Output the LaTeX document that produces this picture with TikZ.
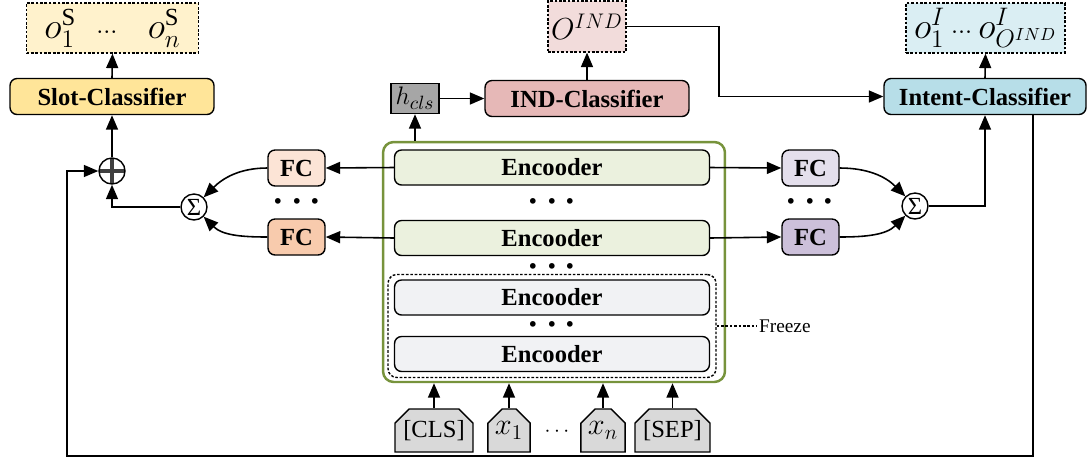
\documentclass[tikz,border=0pt]{standalone}
\usepackage{fontspec}
\setmainfont{Liberation Serif}
\usetikzlibrary{arrows.meta,shapes.misc}
\definecolor{slotdark}{RGB}{255,229,153}
\definecolor{slotlight}{RGB}{255,242,204}
\definecolor{inddark}{RGB}{230,184,183}
\definecolor{indlight}{RGB}{242,220,219}
\definecolor{intdark}{RGB}{183,222,232}
\definecolor{intlight}{RGB}{218,238,243}
\definecolor{fcone}{RGB}{252,228,214}
\definecolor{fctwo}{RGB}{248,203,173}
\definecolor{fcthree}{RGB}{228,223,236}
\definecolor{fcfour}{RGB}{204,192,218}
\definecolor{encgreen}{RGB}{235,241,222}
\definecolor{encgray}{RGB}{241,242,244}
\definecolor{tokgray}{RGB}{217,217,217}
\definecolor{hclsgray}{RGB}{166,166,166}
\definecolor{bertgreen}{RGB}{119,147,60}
\begin{document}
\begin{tikzpicture}[x=0.02cm,y=-0.02cm,
  box/.style={draw,line width=0.8pt,rounded corners=4pt,inner sep=0pt,font=\fontsize{14}{16}\selectfont\bfseries},
  enc/.style={box,minimum width=6.3cm,minimum height=0.7cm},
  fc/.style={box,minimum width=1.14cm,minimum height=0.72cm},
  clsbox/.style={box,minimum width=4.08cm,minimum height=0.72cm},
  outbox/.style={draw,line width=0.7pt,dash pattern=on 1.5pt off 1pt,inner sep=0pt,minimum height=1.0cm,font=\fontsize{20}{22}\selectfont},
  tok/.style={draw,line width=0.8pt,fill=tokgray,chamfered rectangle,chamfered rectangle corners={north west,north east},chamfered rectangle xsep=4pt,chamfered rectangle ysep=4pt,inner sep=0pt,minimum height=0.86cm,font=\fontsize{14}{16}\selectfont},
  sumnode/.style={circle,draw,line width=0.8pt,fill=white,minimum size=0.52cm,inner sep=0pt,font=\fontsize{14}{14}\selectfont},
  dots/.style={inner sep=0pt,font=\fontsize{20}{20}\selectfont\boldmath},
  arr/.style={line width=0.9pt,-{Triangle[length=2.9mm,width=2.4mm]}},
  ln/.style={line width=0.9pt}]
\useasboundingbox (0,0) rectangle (1088,461);

\node[draw=bertgreen,line width=1.4pt,rounded corners=6pt,minimum width=6.84cm,minimum height=4.8cm] (bert) at (554,262) {};
\node[draw,line width=0.8pt,dash pattern=on 1.5pt off 1pt,rounded corners=5pt,minimum width=6.56cm,minimum height=2.06cm] (frz) at (552,326) {};

\node[enc,fill=encgreen] (enc1) at (552,167.5) {Encooder};
\node[enc,fill=encgreen] (enc2) at (552,238) {Encooder};
\node[enc,fill=encgray] (enc3) at (552,297.5) {Encooder};
\node[enc,fill=encgray] (enc4) at (552,354) {Encooder};
\node[dots] (dota) at (552,202) {$\cdots$};
\node[dots] (dotb) at (552,267) {$\cdots$};
\node[dots] (dotc) at (552,325) {$\cdots$};

\node[font=\fontsize{11}{13}\selectfont,anchor=west,inner sep=1pt] (frzlbl) at (757,326) {Freeze};
\draw[line width=0.7pt,dash pattern=on 1.5pt off 1pt] (frz.east) -- (frzlbl.west);

\node[tok,minimum width=1.56cm] (tcls) at (434,430.5) {[CLS]};
\node[tok,minimum width=0.76cm,font=\fontsize{17}{18}\selectfont] (tx1) at (509,430.5) {$x_1$};
\node[inner sep=0pt,font=\fontsize{13}{13}\selectfont] (tdots) at (557,432) {$\cdots$};
\node[tok,minimum width=0.72cm,font=\fontsize{17}{18}\selectfont] (txn) at (603,430.5) {$x_n$};
\node[tok,minimum width=1.5cm] (tsep) at (672.5,430.5) {[SEP]};
\foreach \t in {tcls,tx1,txn,tsep}
  \draw[arr] (\t.north) -- (\t.north |- bert.south);

\node[fc,fill=fcone] (fcs1) at (296.5,168) {FC};
\node[fc,fill=fctwo] (fcs2) at (296.5,237) {FC};
\node[dots] (dotd) at (297,202) {$\cdots$};
\node[fc,fill=fcthree] (fci1) at (810.5,168) {FC};
\node[fc,fill=fcfour] (fci2) at (810.5,237) {FC};
\node[dots] (dote) at (810,202) {$\cdots$};

\draw[arr] (enc1.west) -- (fcs1.east);
\draw[arr] (enc2.west) -- (fcs2.east);
\draw[arr] (enc1.east) -- (fci1.west);
\draw[arr] (enc2.east) -- (fci2.west);

\node[sumnode] (sigs) at (194,207) {Σ};
\node[sumnode] (sigi) at (915,206) {Σ};
\draw[arr] (fcs1.west) to[out=180,in=45] (sigs);
\draw[arr] (fcs2.west) to[out=180,in=-45] (sigs);
\draw[arr] (fci1.east) to[out=0,in=135] (sigi);
\draw[arr] (fci2.east) to[out=0,in=-135] (sigi);

\node[circle,draw,line width=0.8pt,minimum size=0.52cm,inner sep=0pt,
  path picture={\draw[line width=2.6pt,black!75] (path picture bounding box.north) -- (path picture bounding box.south) (path picture bounding box.west) -- (path picture bounding box.east);}] (oplus) at (112,171) {};

\node[clsbox,fill=slotdark] (slotcls) at (112,96.5) {Slot-Classifier};
\node[outbox,fill=slotlight,minimum width=3.44cm] (slotout) at (112.5,28) {$o_1^{\mathrm{S}}\;\;{\scriptstyle\cdots}\;\;\;o_n^{\mathrm{S}}$};
\draw[arr] (sigs.west) -| (oplus.south);
\draw[arr] (oplus.north) -- (slotcls.south);
\draw[arr] (slotcls.north) -- (slotout.south);

\node[draw,line width=0.8pt,fill=hclsgray,minimum width=0.96cm,minimum height=0.6cm,inner sep=0pt,font=\fontsize{15}{16}\selectfont] (hcls) at (415,98.5) {$h_{cls}$};
\node[clsbox,fill=inddark] (indcls) at (587,98.5) {IND-Classifier};
\node[outbox,fill=indlight,minimum width=1.56cm,minimum height=1.02cm,font=\fontsize{17}{18}\selectfont] (indout) at (587,26.5) {$O^{IND}$};
\draw[arr] (hcls.south |- bert.north) -- (hcls.south);
\draw[arr] (hcls.east) -- (indcls.west);
\draw[arr] (indcls.north) -- (indout.south);

\node[clsbox,fill=intdark,minimum width=4.04cm] (intcls) at (985,96.5) {Intent-Classifier};
\node[outbox,fill=intlight,minimum width=3.18cm] (intout) at (985.5,28) {$o_1^I\,{\scriptstyle\cdots}\,o_{O^{IND}}^I$};
\draw[arr] (intcls.north) -- (intout.south);
\draw[arr] (sigi.east) -| (intcls.south);
\coordinate (jx) at (719,0);
\draw[arr] (indout.east) -- (indout.east -| jx) |- (intcls.west);

\coordinate (fb) at (1033,456);
\coordinate (fbl) at (67,456);
\draw[arr] (intcls.south -| fb) -- (fb) -- (fbl) |- (oplus.west);
\end{tikzpicture}
\end{document}
